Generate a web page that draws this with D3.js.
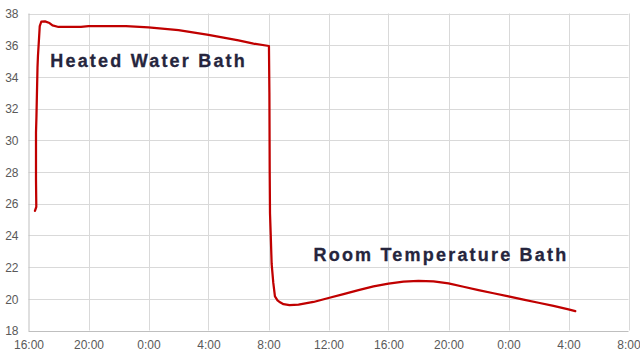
<!DOCTYPE html>
<html>
<head>
<meta charset="utf-8">
<script src="https://cdn.jsdelivr.net/npm/d3@7"></script>
<style>
  html, body { margin: 0; padding: 0; background: #fff; }
  svg { display: block; }
</style>
</head>
<body>
<svg id="chart" width="640" height="356"></svg>
<script>
// ---- Data (hours elapsed since 16:00 on day 1, temperature in °C) ----
const hoursElapsed = [
  0.43, 0.52, 0.50, 0.50, 0.53, 0.60, 0.63, 0.70, 0.75, 0.85, 1.10, 1.40, 1.60, 2.00, 3.50, 4.00,
  6.50, 8.00, 10.0, 12.0, 14.0, 15.0, 16.03, 16.06, 16.08, 16.10, 16.15, 16.21, 16.32, 16.43, 16.60,
  16.77, 17.00, 17.40, 18.00, 19.00, 20.00, 21.00, 22.00, 23.00, 24.00, 25.00, 26.00, 27.00, 28.00,
  29.00, 30.00, 31.00, 32.00, 33.00, 34.00, 35.00, 36.00, 36.45
];
const temperature = [
  25.55, 25.80, 27.50, 30.50, 31.50, 34.60, 35.30, 36.40, 37.20, 37.48, 37.50, 37.40, 37.25, 37.15, 37.15, 37.20,
  37.20, 37.12, 36.95, 36.65, 36.30, 36.10, 35.95, 33.00, 28.00, 25.40, 24.00, 22.20, 21.00, 20.15, 19.90,
  19.78, 19.66, 19.60, 19.63, 19.80, 20.05, 20.30, 20.55, 20.78, 20.96, 21.08, 21.13, 21.10, 20.97,
  20.76, 20.55, 20.35, 20.15, 19.95, 19.75, 19.55, 19.33, 19.22
];
const yTickValues = [18, 20, 22, 24, 26, 28, 30, 32, 34, 36, 38];
const xTickLabels = ["16:00", "20:00", "0:00", "4:00", "8:00", "12:00", "16:00", "20:00", "0:00", "4:00", "8:00"];
const seriesLabels = ["Heated Water Bath", "Room Temperature Bath"];

// ---- Setup ----
const startTime = new Date(2020, 0, 1, 16, 0);
const endTime = new Date(2020, 0, 3, 8, 0);
const toDate = h => new Date(startTime.getTime() + h * 3600 * 1000);
const data = hoursElapsed.map((h, i) => ({ t: toDate(h), v: temperature[i] }));

const svg = d3.select("#chart");
const mLeft = 28.5, mRight = 628.5, mTop = 13.5, mBottom = 330.5;

const x = d3.scaleTime().domain([startTime, endTime]).range([mLeft, mRight]);
const y = d3.scaleLinear().domain([18, 38]).range([mBottom, mTop]);
const xTicks = d3.timeHour.every(4).range(startTime, new Date(endTime.getTime() + 1));

// Gridlines
svg.append("g").selectAll("line").data(yTickValues.slice(1)).join("line")
  .attr("x1", mLeft).attr("x2", mRight)
  .attr("y1", d => Math.round(y(d)) + 0.5).attr("y2", d => Math.round(y(d)) + 0.5)
  .attr("stroke", "#d9d9d9").attr("stroke-width", 1);
svg.append("g").selectAll("line").data(xTicks.slice(1)).join("line")
  .attr("x1", d => Math.round(x(d)) + 0.5).attr("x2", d => Math.round(x(d)) + 0.5)
  .attr("y1", mTop).attr("y2", mBottom)
  .attr("stroke", "#d9d9d9").attr("stroke-width", 1);

// Axes
const yAxis = d3.axisLeft(y).tickValues(yTickValues).tickSize(0).tickPadding(10).tickFormat(d3.format("d"));
const gy = svg.append("g").attr("transform", `translate(${mLeft},0)`).call(yAxis);
gy.select(".domain").attr("stroke", "#bfbfbf").attr("d", `M0.5,${mTop}V${mBottom + 0.5}`);

const fmt = d3.timeFormat("%-H:%M");
const xAxis = d3.axisBottom(x).tickValues(xTicks).tickSize(0).tickPadding(9).tickFormat((d, i) => xTickLabels[i] || fmt(d));
const gx = svg.append("g").attr("transform", `translate(0,${Math.round(mBottom) + 0.5})`).call(xAxis);
gx.select(".domain").attr("stroke", "#bfbfbf").attr("d", `M${mLeft},0H${mRight}`);

svg.selectAll(".tick text")
  .attr("fill", "#595959")
  .style("font-family", "'Liberation Sans', Arial, sans-serif")
  .style("font-size", "12px");
gy.selectAll(".tick text").attr("dy", "0.35em");

// Line
const line = d3.line().x(d => x(d.t)).y(d => y(d.v)).curve(d3.curveLinear);
svg.append("path").datum(data)
  .attr("d", line)
  .attr("fill", "none")
  .attr("stroke", "#c00000")
  .attr("stroke-width", 2.25)
  .attr("stroke-linejoin", "round")
  .attr("stroke-linecap", "round");

// Annotations
const annot = [
  { text: seriesLabels[0], t: toDate(1.45), v: 34.62 },
  { text: seriesLabels[1], t: toDate(19.0), v: 22.38 }
];
svg.append("g").selectAll("text").data(annot).join("text")
  .attr("x", d => x(d.t)).attr("y", d => y(d.v))
  .text(d => d.text)
  .attr("fill", "#25253d")
  .attr("stroke", "#25253d")
  .attr("stroke-width", 0.3)
  .style("font-family", "'Liberation Sans', Arial, sans-serif")
  .style("font-weight", "bold")
  .style("font-size", "18px")
  .style("letter-spacing", "2.2px");
</script>
</body>
</html>
